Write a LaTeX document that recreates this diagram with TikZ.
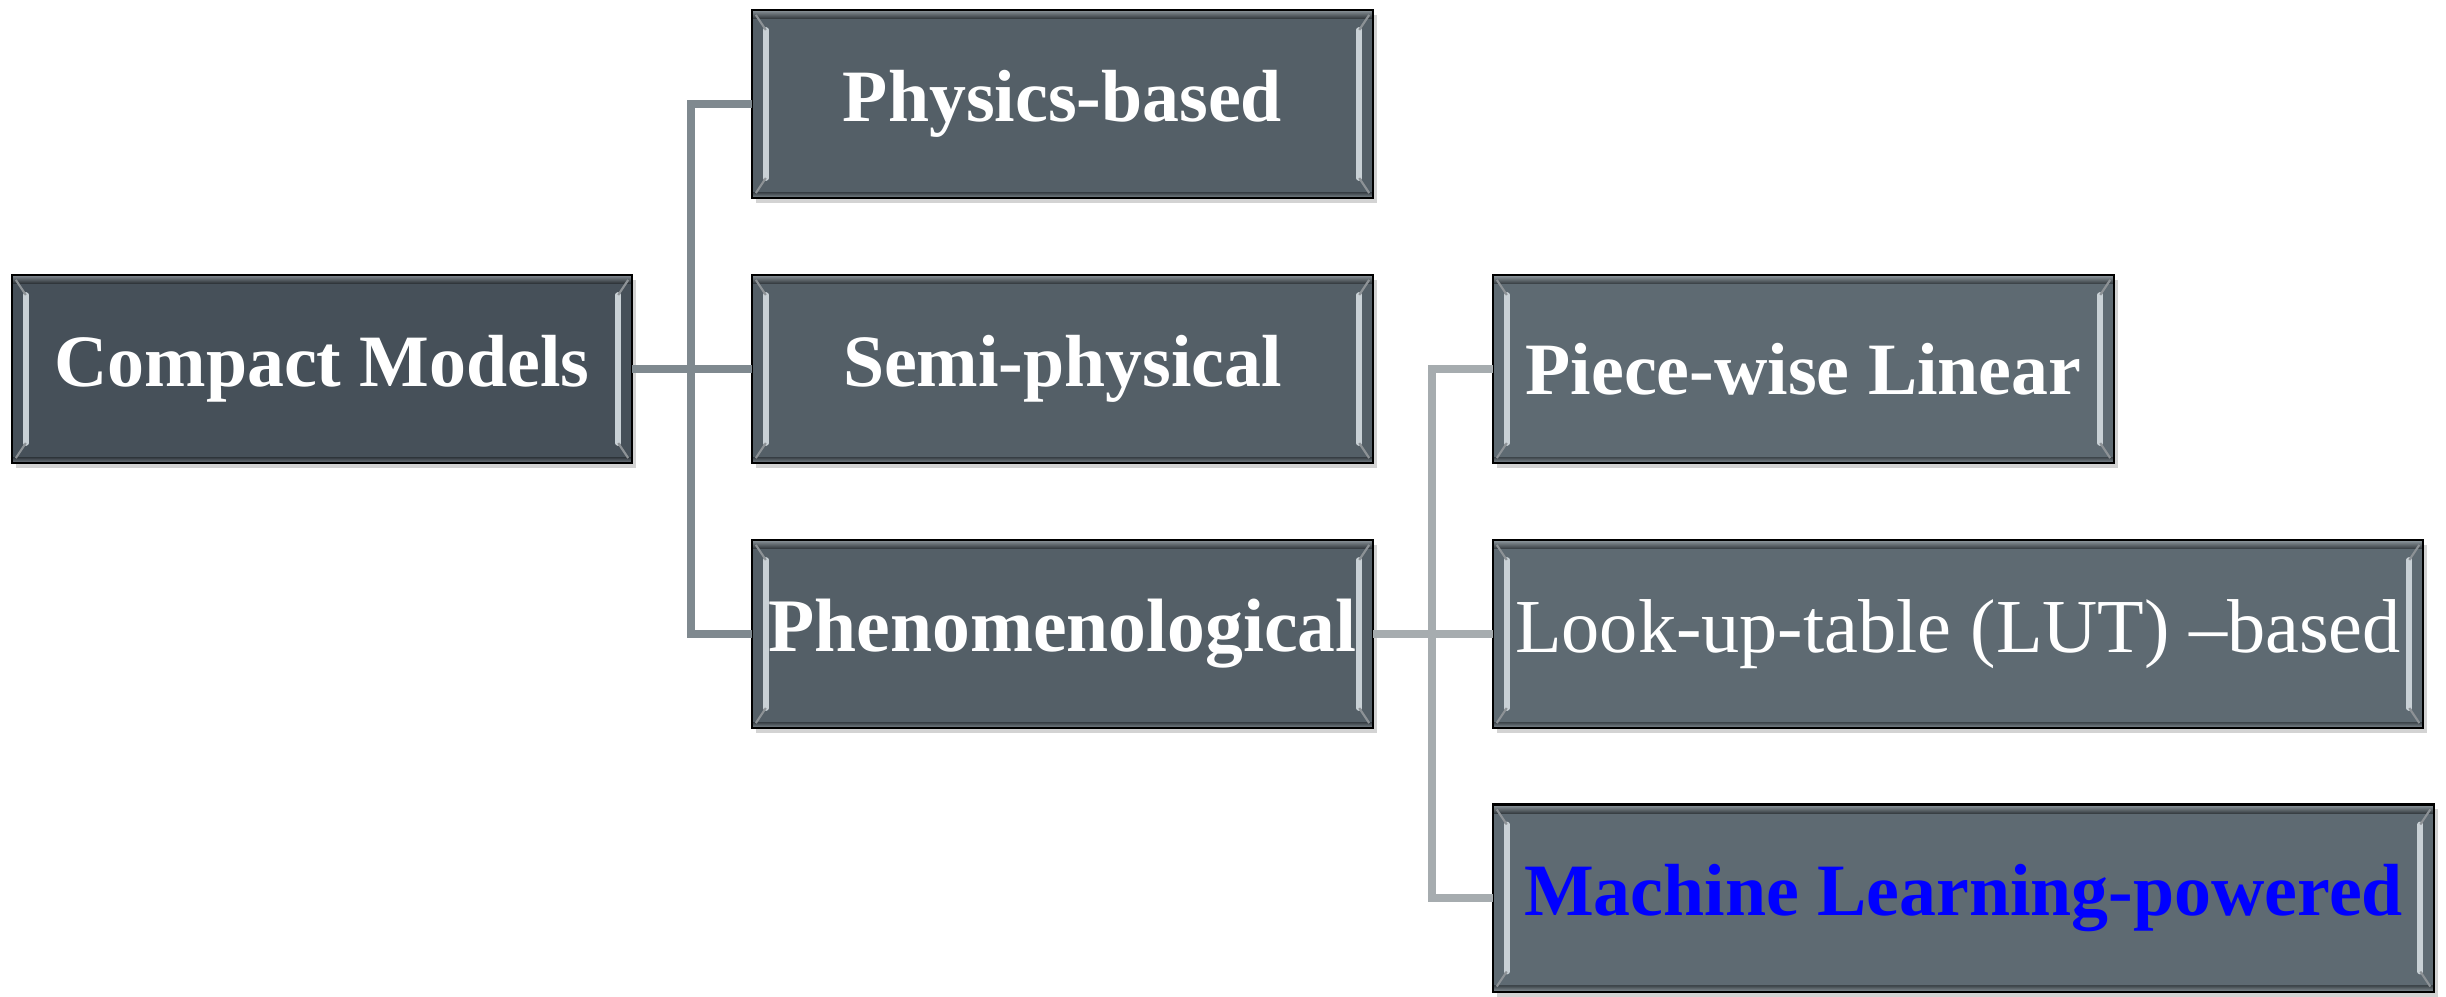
\documentclass[tikz,border=0pt]{standalone}
\usepackage{fontspec}
\setmainfont{Liberation Serif}
\usetikzlibrary{shadows}

\definecolor{rootfill}{HTML}{465059}
\definecolor{midfill}{HTML}{545F67}
\definecolor{leaffill}{HTML}{5E6A72}
\definecolor{bevel}{HTML}{C9D1D6}
\definecolor{linkA}{HTML}{7F898F}
\definecolor{linkB}{HTML}{A6ACAF}
\definecolor{mlblue}{HTML}{0000FF}

\tikzset{
  bevelbox/.style={
    draw=black, line width=0.6pt, inner sep=0pt, outer sep=0pt,
    minimum height=1.88cm, text=white,
    font=\fontsize{21}{24}\selectfont\bfseries,
    drop shadow={opacity=0.35, shadow xshift=0.04cm, shadow yshift=-0.05cm},
    path picture={
      \coordinate (bl) at (path picture bounding box.south west);
      \coordinate (tr) at (path picture bounding box.north east);
      \coordinate (tl) at (path picture bounding box.north west);
      \coordinate (br) at (path picture bounding box.south east);
      % light rim along top and bottom
      \shade[top color=bevel!80, bottom color=bevel!0!black, opacity=0.45]
        (tl) rectangle ([yshift=-0.09cm]tr);
      \shade[bottom color=bevel!80, top color=bevel!0!black, opacity=0.35]
        (bl) rectangle ([yshift=0.06cm]br);
      % vertical glints near both sides
      \draw[bevel, line width=1.6pt, line cap=round]
        ([shift={(0.14cm,0.2cm)}]bl) -- ([shift={(0.14cm,-0.2cm)}]tl);
      \draw[bevel, line width=1.6pt, line cap=round]
        ([shift={(-0.14cm,0.2cm)}]br) -- ([shift={(-0.14cm,-0.2cm)}]tr);
      \draw[bevel!70!black, line width=0.6pt]
        ([shift={(0.14cm,0.2cm)}]bl) -- ([shift={(0.04cm,0.05cm)}]bl)
        ([shift={(0.14cm,-0.2cm)}]tl) -- ([shift={(0.04cm,-0.05cm)}]tl)
        ([shift={(-0.14cm,0.2cm)}]br) -- ([shift={(-0.04cm,0.05cm)}]br)
        ([shift={(-0.14cm,-0.2cm)}]tr) -- ([shift={(-0.04cm,-0.05cm)}]tr);
    }
  },
  rootbox/.style={bevelbox, fill=rootfill},
  midbox/.style={bevelbox, fill=midfill},
  leafbox/.style={bevelbox, fill=leaffill},
  linkone/.style={draw=linkA, line width=2.2pt},
  linktwo/.style={draw=linkB, line width=2.2pt},
}

\begin{document}
\begin{tikzpicture}[x=0.01cm, y=0.01cm]
  \useasboundingbox (0,0) rectangle (2446,996);

  % junction points of the two bracket trunks
  \coordinate (j1) at (691,627);
  \coordinate (j2) at (1432,362);

  % first level
  \node[rootbox, minimum width=6.2cm] (cm) at (322,627) {Compact Models};
  \node[midbox, minimum width=6.21cm] (pb) at (1062.5,892) {Physics-based};
  \node[midbox, minimum width=6.21cm] (sp) at (1062.5,627) {Semi-physical};
  \node[midbox, minimum width=6.21cm, font=\fontsize{21.5}{24}\selectfont\bfseries] (ph) at (1062.5,362) {Phenomenological};

  % second level
  \node[leafbox, minimum width=6.21cm] (pl) at (1803.5,627) {Piece-wise Linear};
  \node[leafbox, minimum width=9.30cm, font=\fontsize{21.7}{24}\selectfont] (lut) at (1958,362) {Look-up-table (LUT) –based};
  \node[leafbox, minimum width=9.41cm, minimum height=1.87cm, text=mlblue] (ml) at (1963.5,98) {Machine Learning-powered};

  % brackets
  \draw[linkone] (cm.east) -- (j1);
  \draw[linkone] (pb.west) -| (j1 |- ph.west) -- (ph.west);
  \draw[linkone] (j1) -- (sp.west);

  \draw[linktwo] (ph.east) -- (lut.west);
  \draw[linktwo] (pl.west) -| (j2 |- ml.west) -- (ml.west);
\end{tikzpicture}
\end{document}
